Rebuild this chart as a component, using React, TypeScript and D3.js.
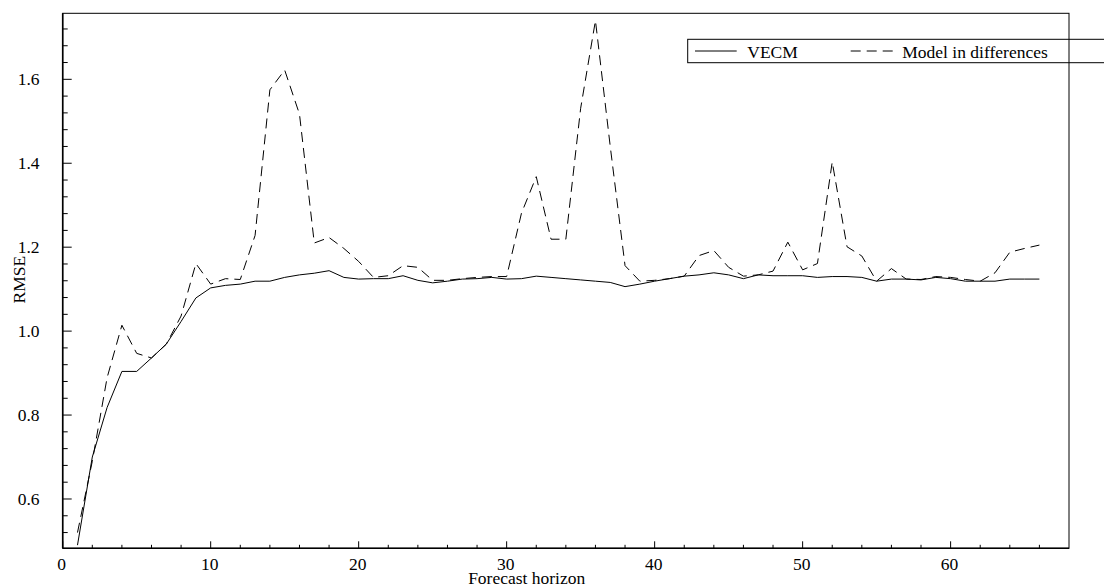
import React from 'react';
import * as d3 from 'd3';

// forecast horizons 1..66
const horizons = d3.range(1, 67);

const vecm = [
  0.49, 0.70, 0.818, 0.904, 0.904, 0.936, 0.969, 1.023, 1.079, 1.103,
  1.109, 1.112, 1.119, 1.119, 1.128, 1.134, 1.138, 1.144, 1.128, 1.124,
  1.125, 1.125, 1.132, 1.121, 1.115, 1.119, 1.124, 1.125, 1.128, 1.124,
  1.125, 1.131, 1.128, 1.125, 1.122, 1.119, 1.116, 1.106, 1.112, 1.119,
  1.125, 1.131, 1.134, 1.139, 1.134, 1.125, 1.134, 1.132, 1.132, 1.132,
  1.128, 1.130, 1.130, 1.128, 1.119, 1.124, 1.124, 1.122, 1.128, 1.125,
  1.119, 1.119, 1.119, 1.124, 1.124, 1.124,
];

const differences = [
  0.52, 0.69, 0.889, 1.014, 0.947, 0.936, 0.969, 1.036, 1.161, 1.112,
  1.125, 1.123, 1.228, 1.575, 1.622, 1.517, 1.210, 1.223, 1.197, 1.166,
  1.128, 1.132, 1.156, 1.152, 1.121, 1.121, 1.125, 1.128, 1.130, 1.130,
  1.281, 1.368, 1.219, 1.219, 1.531, 1.740, 1.440, 1.156, 1.119, 1.121,
  1.125, 1.131, 1.180, 1.192, 1.152, 1.131, 1.134, 1.143, 1.212, 1.146,
  1.161, 1.403, 1.201, 1.179, 1.119, 1.149, 1.124, 1.123, 1.130, 1.128,
  1.123, 1.119, 1.139, 1.188, 1.197, 1.205,
];

const xMajor = [0, 10, 20, 30, 40, 50, 60];
const xMinor = d3.range(2, 68, 2).filter(v => v % 10 !== 0);
const yMajor = [0.6, 0.8, 1.0, 1.2, 1.4, 1.6];
const yMajorLabels = ['0.6', '0.8', '1.0', '1.2', '1.4', '1.6'];
const yMinor = d3.range(0.52, 1.75, 0.04).filter(v => Math.abs(Math.round(v * 5) - v * 5) > 0.01);

const textStyle = { fontFamily: 'Liberation Serif, serif', fontSize: '17.5px' };

export default function App() {
  const left = 62.7, right = 1069, top = 13.3, bottom = 548.3;

  const x = d3.scaleLinear().domain([0, 68]).range([left, right]);
  const y = d3.scaleLinear().domain([0.4825, 1.7573]).range([bottom, top]);

  const line = d3.line<number>()
    .x((d, i) => x(horizons[i]))
    .y(d => y(d));

  return (
    <svg width={1104} height={586}
      style={{ position: 'absolute', left: 0, top: 0, display: 'block', background: '#fff' }}>
      <rect x={0} y={0} width={1104} height={586} fill="#fff" />

      {/* data */}
      <path d={line(vecm) || ''} fill="none" stroke="#000" strokeWidth={1} />
      <path d={line(differences) || ''} fill="none" stroke="#000" strokeWidth={1} strokeDasharray="10,6" />

      {/* frame */}
      <rect x={left} y={top} width={right - left} height={bottom - top} fill="none" stroke="#000" strokeWidth={1} />
      <line x1={left} x2={right} y1={bottom} y2={bottom} stroke="#000" strokeWidth={1.6} />
      <line x1={left} x2={left} y1={top} y2={bottom} stroke="#000" strokeWidth={1.6} />

      {/* x ticks (inward) */}
      {xMinor.map(v => (
        <line key={'xm' + v} x1={x(v)} x2={x(v)} y1={bottom} y2={bottom - 3.5} stroke="#000" strokeWidth={1} />
      ))}
      {xMajor.map(v => (
        <g key={'xM' + v}>
          <line x1={x(v)} x2={x(v)} y1={bottom} y2={bottom - 7} stroke="#000" strokeWidth={1} />
          <text x={x(v) - 1} y={570} textAnchor="middle" style={textStyle}>{v}</text>
        </g>
      ))}

      {/* y ticks (inward) */}
      {yMinor.map(v => (
        <line key={'ym' + v} x1={left} x2={left + 5} y1={y(v)} y2={y(v)} stroke="#000" strokeWidth={1} />
      ))}
      {yMajor.map((v, i) => (
        <g key={'yM' + v}>
          <line x1={left} x2={left + 9} y1={y(v)} y2={y(v)} stroke="#000" strokeWidth={1} />
          <text x={39.5} y={y(v)} dy="0.35em" textAnchor="end" style={textStyle}>{yMajorLabels[i]}</text>
        </g>
      ))}

      {/* axis titles */}
      <text transform="translate(25,279.7) rotate(-90)" textAnchor="middle" style={textStyle}>RMSE</text>
      <text x={526.7} y={584} textAnchor="middle" style={textStyle}>Forecast horizon</text>

      {/* legend */}
      <rect x={687.7} y={39.3} width={450} height={23.4} fill="none" stroke="#000" strokeWidth={1} />
      <line x1={695} x2={736.7} y1={51} y2={51} stroke="#000" strokeWidth={1} />
      <text x={747.3} y={57.5} style={textStyle}>VECM</text>
      <line x1={850.7} x2={893.3} y1={51} y2={51} stroke="#000" strokeWidth={1} strokeDasharray="10,6" />
      <text x={902.3} y={57.5} style={textStyle}>Model in differences</text>
    </svg>
  );
}
